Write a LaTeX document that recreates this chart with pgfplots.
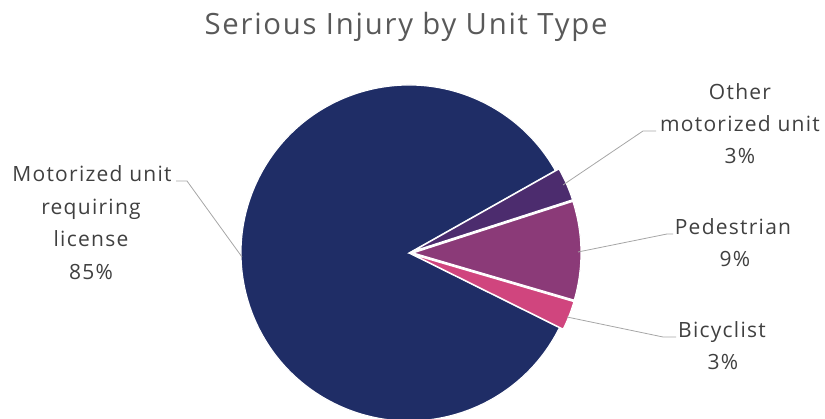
\documentclass[border=0pt]{standalone}
\usepackage{pgfplots}
\pgfplotsset{compat=1.18}
\usepackage{fontspec}
\setmainfont{Open Sans}
\newfontfamily\spaced[LetterSpace=6]{Open Sans}
\definecolor{cBig}{RGB}{31,45,102}
\definecolor{cOther}{RGB}{76,44,110}
\definecolor{cPed}{RGB}{139,58,120}
\definecolor{cBike}{RGB}{208,69,126}
\definecolor{lead}{RGB}{166,166,166}
\definecolor{lab}{RGB}{64,64,64}
\definecolor{ttl}{RGB}{89,89,89}
% data (percent)
\def\vOther{3.2}
\def\vPed{9.5}
\def\vBike{2.8}
\def\vBig{84.5}
\def\startA{29.4}
\pgfmathsetmacro\aA{\startA}
\pgfmathsetmacro\aB{\aA-3.6*\vOther}
\pgfmathsetmacro\aC{\aB-3.6*\vPed}
\pgfmathsetmacro\aD{\aC-3.6*\vBike}
\pgfmathsetmacro\aE{\aD-3.6*\vBig}
\pgfmathsetmacro\mA{(\aA+\aB)/2}
\pgfmathsetmacro\mB{(\aB+\aC)/2}
\pgfmathsetmacro\mC{(\aC+\aD)/2}
\def\R{168pt}
\begin{document}
\begin{tikzpicture}
\begin{axis}[scale only axis, width=825pt, height=419pt,
  xmin=0, xmax=825, ymin=0, ymax=419, hide axis, clip=true]
% big slice
\fill[cBig, draw=white, line width=1.2pt] (axis cs:409,166) -- ++(\aD:\R) arc[start angle=\aD, end angle=\aE, radius=\R] -- cycle;
% small slices (slightly exploded)
\fill[cOther, draw=white, line width=1.2pt, shift={(\mA:4pt)}] (axis cs:409,166) -- ++(\aA:\R) arc[start angle=\aA, end angle=\aB, radius=\R] -- cycle;
\fill[cPed, draw=white, line width=1.2pt, shift={(\mB:4pt)}] (axis cs:409,166) -- ++(\aB:\R) arc[start angle=\aB, end angle=\aC, radius=\R] -- cycle;
\fill[cBike, draw=white, line width=1.2pt, shift={(\mC:4pt)}] (axis cs:409,166) -- ++(\aC:\R) arc[start angle=\aC, end angle=\aD, radius=\R] -- cycle;
% leader lines
\draw[lead, line width=0.8pt] (axis cs:176,238) -- (axis cs:187,238) -- (axis cs:242,162);
\draw[lead, line width=0.8pt] (axis cs:563,234) -- (axis cs:643,288) -- (axis cs:656,288);
\draw[lead, line width=0.8pt] (axis cs:578,167) -- (axis cs:667,185) -- (axis cs:673,185);
\draw[lead, line width=0.8pt] (axis cs:567,102) -- (axis cs:663,82) -- (axis cs:676,82);
% title
\node[anchor=base, text=ttl, font=\spaced\fontsize{29.3}{33}\selectfont] at (axis cs:406,384) {Serious Injury by Unit Type};
% labels
\begin{scope}[every node/.style={anchor=base, text=lab, font=\spaced\fontsize{21}{26}\selectfont, inner sep=0pt}]
\node at (axis cs:92,237) {Motorized unit};
\node at (axis cs:91,204) {requiring};
\node at (axis cs:91,172) {license};
\node at (axis cs:91,139) {85\%};
\node at (axis cs:740,319) {Other};
\node at (axis cs:740,287) {motorized unit};
\node at (axis cs:740,255) {3\%};
\node at (axis cs:733,184) {Pedestrian};
\node at (axis cs:735,152) {9\%};
\node at (axis cs:722,81) {Bicyclist};
\node at (axis cs:723,49) {3\%};
\end{scope}
\end{axis}
\pgfresetboundingbox
\path[use as bounding box] (current axis.south west) rectangle (current axis.north east);
\end{tikzpicture}
\end{document}
